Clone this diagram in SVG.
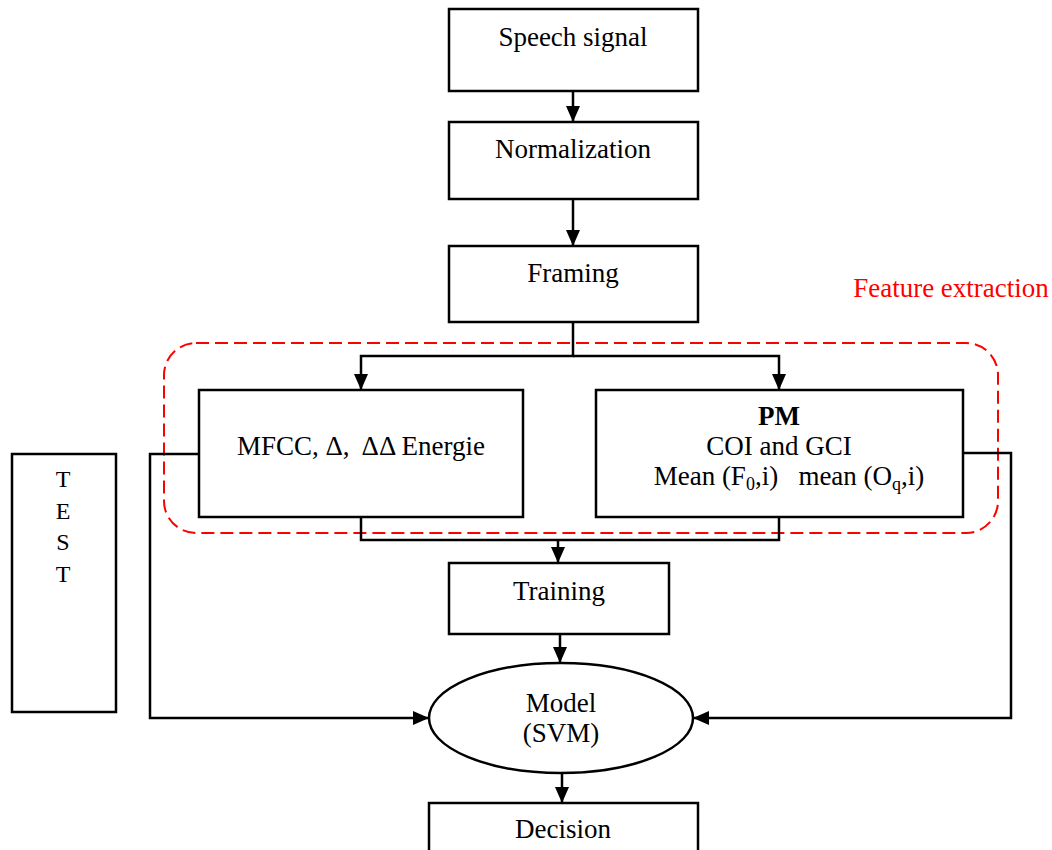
<svg xmlns="http://www.w3.org/2000/svg" width="1052" height="850" viewBox="0 0 1052 850">
  <style>
    .box { fill: #fff; stroke: #000; stroke-width: 2.5; }
    .lbl { font-family: "Liberation Serif", "Times New Roman", serif; font-size: 27px; fill: #000; text-anchor: middle; }
    .wire { fill: none; stroke: #000; stroke-width: 2.5; }
    .group { fill: none; stroke: #f00; stroke-width: 2; stroke-dasharray: 13 6; }
  </style>
  <defs>
    <marker id="arr" viewBox="0 0 16 14" refX="16" refY="7" markerWidth="16" markerHeight="14" markerUnits="userSpaceOnUse" orient="auto">
      <path d="M0,0 L16,7 L0,14 z" fill="#000"/>
    </marker>
  </defs>

  <!-- dashed outline around the two feature extraction blocks -->
  <rect id="feature-extraction-region" class="group" x="164" y="343" width="834" height="190" rx="32" ry="32"/>
  <text id="feature-extraction-label" class="lbl" x="951" y="297" style="fill:#f00">Feature extraction</text>

  <g id="connectors">
    <path class="wire" d="M573,91 V122" marker-end="url(#arr)"/>
    <path class="wire" d="M573,199 V246" marker-end="url(#arr)"/>
    <path class="wire" d="M573,322 V356 H361 V390" marker-end="url(#arr)"/>
    <path class="wire" d="M573,356 H779 V390" marker-end="url(#arr)"/>
    <path class="wire" d="M361,517 V540 H779 V517"/>
    <path class="wire" d="M558,540 V563" marker-end="url(#arr)"/>
    <path class="wire" d="M560,634 V663" marker-end="url(#arr)"/>
    <path class="wire" d="M199,454 H150 V718 H429" marker-end="url(#arr)"/>
    <path class="wire" d="M963,453 H1011 V718 H693" marker-end="url(#arr)"/>
    <path class="wire" d="M562,773 V803" marker-end="url(#arr)"/>
  </g>

  <g id="speech-signal">
    <rect class="box" x="449" y="9" width="249" height="82"/>
    <text class="lbl" x="573" y="46">Speech signal</text>
  </g>

  <g id="normalization">
    <rect class="box" x="449" y="122" width="249" height="77"/>
    <text class="lbl" x="573" y="158">Normalization</text>
  </g>

  <g id="framing">
    <rect class="box" x="449" y="246" width="249" height="76"/>
    <text class="lbl" x="573" y="282">Framing</text>
  </g>

  <g id="mfcc">
    <rect class="box" x="199" y="390" width="324" height="127"/>
    <text class="lbl" x="361" y="455" xml:space="preserve">MFCC, Δ,  ΔΔ Energie</text>
  </g>

  <g id="pm">
    <rect class="box" x="596" y="390" width="367" height="127"/>
    <text class="lbl" x="779" y="425" font-weight="bold">PM</text>
    <text class="lbl" x="779" y="455">COI and GCI</text>
    <text class="lbl" x="789" y="485" xml:space="preserve">Mean (F<tspan font-size="18" dy="5">0</tspan><tspan dy="-5">,i)   mean (O</tspan><tspan font-size="18" dy="5">q</tspan><tspan dy="-5">,i)</tspan></text>
  </g>

  <g id="training">
    <rect class="box" x="449" y="563" width="220" height="71"/>
    <text class="lbl" x="559" y="600">Training</text>
  </g>

  <g id="model">
    <ellipse class="box" cx="561" cy="718" rx="132" ry="55"/>
    <text class="lbl" x="561" y="712">Model</text>
    <text class="lbl" x="561" y="742">(SVM)</text>
  </g>

  <g id="decision">
    <rect class="box" x="429" y="803" width="269" height="60"/>
    <text class="lbl" x="563" y="838">Decision</text>
  </g>

  <g id="test">
    <rect class="box" x="12" y="454" width="104" height="258"/>
    <text class="lbl" x="63" y="487" style="font-size:24px">T</text>
    <text class="lbl" x="63" y="519" style="font-size:24px">E</text>
    <text class="lbl" x="63" y="550" style="font-size:24px">S</text>
    <text class="lbl" x="63" y="582" style="font-size:24px">T</text>
  </g>
</svg>
